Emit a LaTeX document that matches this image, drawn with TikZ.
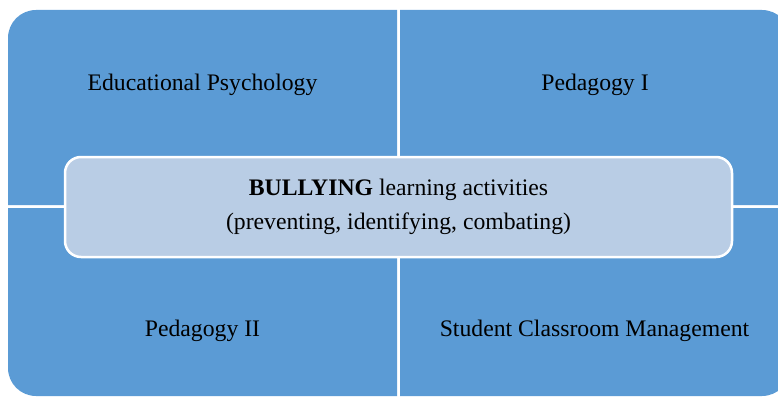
\documentclass[tikz,border=0pt]{standalone}
\usepackage{fontspec}
\setmainfont{Liberation Serif}
\definecolor{bleu}{RGB}{91,155,213}
\definecolor{bleupale}{RGB}{185,205,229}

\begin{document}
\begin{tikzpicture}[x=1pt, y=1pt, thin]
  \tikzstyle{quad}=[fill=bleu]
  \tikzstyle{quadtext}=[text=black, font=\fontsize{23.7}{34}\selectfont, inner sep=0pt]
  \tikzstyle{mainbox}=[rectangle, rounded corners=16pt, fill=bleupale, draw=white, line width=2.5pt, minimum width=667pt, minimum height=100pt, align=center, text=black, font=\fontsize{23.7}{34}\selectfont]

	\useasboundingbox (0,0) rectangle (778,397);
	\clip (0,0) rectangle (778,397);

	% the four quadrants, only the outer corner is rounded
	\fill[quad] (8,192) -- (8,359) arc[start angle=180, end angle=90, radius=28] -- (397,387) -- (397,192) -- cycle;
	\fill[quad] (400,192) -- (400,387) -- (762,387) arc[start angle=90, end angle=0, radius=28] -- (790,192) -- cycle;
	\fill[quad] (8,189) -- (8,29) arc[start angle=180, end angle=270, radius=28] -- (397,1) -- (397,189) -- cycle;
	\fill[quad] (400,189) -- (400,1) -- (762,1) arc[start angle=-90, end angle=0, radius=28] -- (790,189) -- cycle;

	\node[quadtext] (EP) at (202.5,312) {Educational Psychology};
	\node[quadtext] (P1) at (595,312) {Pedagogy I};
	\node[quadtext] (P2) at (202.5,66) {Pedagogy II};
	\node[quadtext] (SCM) at (594.5,66) {Student Classroom Management};

	\node[mainbox] (B) at (398.5,190) {\textbf{BULLYING} learning activities\\(preventing, identifying, combating)};

\end{tikzpicture}
\end{document}
